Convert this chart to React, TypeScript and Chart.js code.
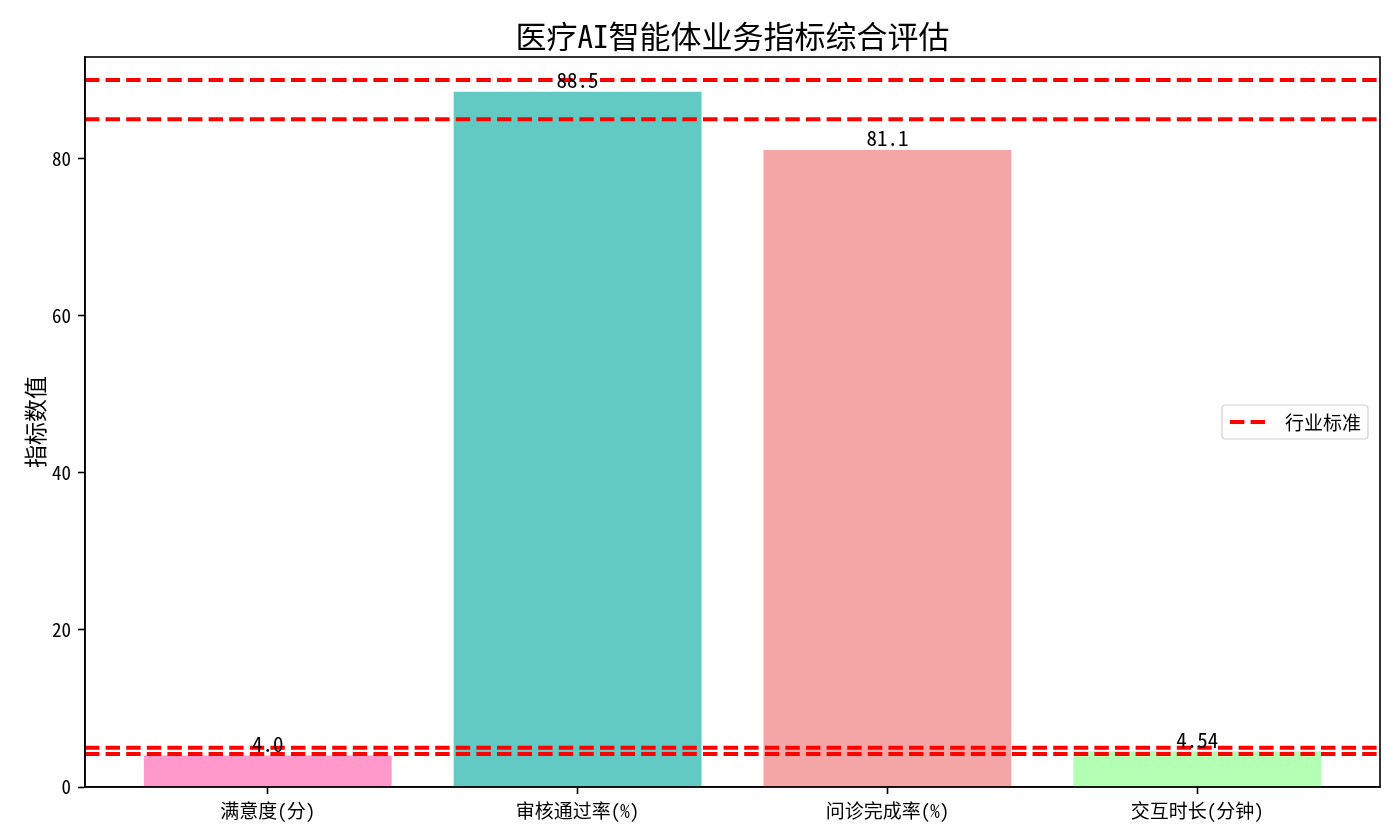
import React, { useEffect, useRef } from "react";
import { Chart, registerables } from "chart.js";

Chart.register(...registerables);

const categories = ["满意度(分)", "审核通过率(%)", "问诊完成率(%)", "交互时长(分钟)"];
const values = [4.0, 88.5, 81.1, 4.54];
const valueLabels = ["4.0", "88.5", "81.1", "4.54"];
const barColors = ["#FF99CC", "#62C9C3", "#F4A6A6", "#B3FFB3"];
const standardLines = [90, 85, 5.0, 4.2];
const yTicks = [0, 20, 40, 60, 80];
const titleText = "医疗AI智能体业务指标综合评估";
const yLabelText = "指标数值";
const legendText = "行业标准";

const FONT = "'Noto Sans Mono CJK SC', 'Noto Sans CJK SC', 'DejaVu Sans', sans-serif";

const overlayPlugin = {
  id: "overlay",
  afterDatasetsDraw(chart: any) {
    const { ctx, chartArea, scales } = chart;
    const ys = scales.y;
    const xs = scales.x;
    ctx.save();
    ctx.beginPath();
    ctx.rect(chartArea.left, chartArea.top, chartArea.right - chartArea.left, chartArea.bottom - chartArea.top);
    ctx.clip();
    ctx.strokeStyle = "#FF0000";
    ctx.lineWidth = 3.9;
    ctx.setLineDash([14.4, 6.2]);
    for (const v of standardLines) {
      const py = ys.getPixelForValue(v);
      ctx.beginPath();
      ctx.moveTo(chartArea.left, py);
      ctx.lineTo(chartArea.right, py);
      ctx.stroke();
    }
    ctx.restore();

    ctx.save();
    ctx.fillStyle = "#000";
    ctx.font = `21px ${FONT}`;
    ctx.textAlign = "center";
    ctx.textBaseline = "bottom";
    values.forEach((v, i) => {
      const px = xs.getPixelForValue(i);
      const py = ys.getPixelForValue(v);
      ctx.fillText(valueLabels[i], px, py - 1);
    });
    ctx.restore();
  },
  afterDraw(chart: any) {
    const { ctx, chartArea } = chart;
    ctx.save();
    ctx.strokeStyle = "#000";
    ctx.lineWidth = 1.6;
    ctx.setLineDash([]);
    ctx.strokeRect(chartArea.left, chartArea.top, chartArea.right - chartArea.left, chartArea.bottom - chartArea.top);

    ctx.fillStyle = "#000";
    ctx.font = `31px ${FONT}`;
    ctx.textAlign = "center";
    ctx.textBaseline = "middle";
    ctx.fillText(titleText, (chartArea.left + chartArea.right) / 2, 36);

    ctx.save();
    ctx.translate(35, (chartArea.top + chartArea.bottom) / 2);
    ctx.rotate(-Math.PI / 2);
    ctx.font = `23px ${FONT}`;
    ctx.textAlign = "center";
    ctx.textBaseline = "middle";
    ctx.fillText(yLabelText, 0, 0);
    ctx.restore();

    const lx = 1222, ly = 405, lw = 146, lh = 34, r = 4;
    ctx.beginPath();
    ctx.moveTo(lx + r, ly);
    ctx.lineTo(lx + lw - r, ly);
    ctx.quadraticCurveTo(lx + lw, ly, lx + lw, ly + r);
    ctx.lineTo(lx + lw, ly + lh - r);
    ctx.quadraticCurveTo(lx + lw, ly + lh, lx + lw - r, ly + lh);
    ctx.lineTo(lx + r, ly + lh);
    ctx.quadraticCurveTo(lx, ly + lh, lx, ly + lh - r);
    ctx.lineTo(lx, ly + r);
    ctx.quadraticCurveTo(lx, ly, lx + r, ly);
    ctx.closePath();
    ctx.fillStyle = "rgba(255,255,255,0.8)";
    ctx.fill();
    ctx.strokeStyle = "#D0D0D0";
    ctx.lineWidth = 1.2;
    ctx.stroke();

    ctx.strokeStyle = "#FF0000";
    ctx.lineWidth = 3.9;
    ctx.setLineDash([14.4, 6.2]);
    ctx.beginPath();
    ctx.moveTo(lx + 8, ly + lh / 2);
    ctx.lineTo(lx + 46, ly + lh / 2);
    ctx.stroke();
    ctx.setLineDash([]);

    ctx.fillStyle = "#000";
    ctx.font = `19px ${FONT}`;
    ctx.textAlign = "left";
    ctx.textBaseline = "middle";
    ctx.fillText(legendText, lx + 63, ly + lh / 2 + 1);
    ctx.restore();
  },
};

export default function App() {
  const ref = useRef<HTMLCanvasElement | null>(null);
  useEffect(() => {
    if (!ref.current) return;
    const chart = new Chart(ref.current, {
      type: "bar",
      data: {
        datasets: [
          {
            data: values.map((v, i) => ({ x: i, y: v })),
            backgroundColor: barColors,
            borderWidth: 0,
            barPercentage: 0.8,
            categoryPercentage: 1.0,
          } as any,
        ],
      },
      options: {
        responsive: false,
        animation: false,
        devicePixelRatio: 1,
        layout: { padding: { top: 57, right: 20, left: 0, bottom: 0 } },
        plugins: {
          legend: { display: false },
          title: { display: false },
          tooltip: { enabled: false },
        },
        scales: {
          x: {
            type: "linear",
            min: -0.59,
            max: 3.59,
            offset: false,
            afterBuildTicks: (axis: any) => {
              axis.ticks = categories.map((_, i) => ({ value: i }));
            },
            afterFit: (axis: any) => {
              axis.height = 53;
            },
            ticks: {
              autoSkip: false,
              maxRotation: 0,
              padding: 5,
              color: "#000",
              font: { family: FONT, size: 19 },
              callback: (v: any) => categories[v as number] ?? "",
            },
            grid: {
              display: true,
              offset: false,
              drawOnChartArea: false,
              drawTicks: true,
              tickLength: 7,
              tickWidth: 1.6,
              tickColor: "#000",
            },
            border: { display: true, color: "#000", width: 1.6 },
          } as any,
          y: {
            type: "linear",
            min: 0,
            max: 92.925,
            afterBuildTicks: (axis: any) => {
              axis.ticks = yTicks.map((v) => ({ value: v }));
            },
            afterFit: (axis: any) => {
              axis.width = 85;
            },
            ticks: {
              padding: 7,
              color: "#000",
              font: { family: FONT, size: 19 },
              callback: (v: any) => String(v),
            },
            grid: {
              display: true,
              drawOnChartArea: false,
              drawTicks: true,
              tickLength: 7,
              tickWidth: 1.6,
              tickColor: "#000",
            },
            border: { display: true, color: "#000", width: 1.6 },
          } as any,
        },
      },
      plugins: [overlayPlugin],
    });
    return () => chart.destroy();
  }, []);
  return (
    <div style={{ position: "fixed", left: 0, top: 0, width: 1400, height: 840, background: "#fff" }}>
      <canvas ref={ref} width={1400} height={840} style={{ width: 1400, height: 840 }} />
    </div>
  );
}
